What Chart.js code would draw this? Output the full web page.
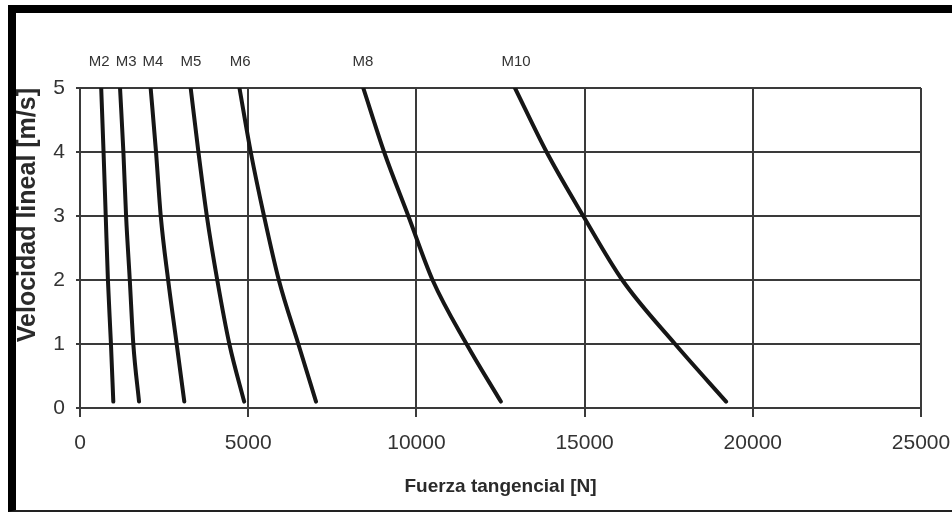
<!DOCTYPE html>
<html>
<head>
<meta charset="utf-8">
<script src="https://cdn.jsdelivr.net/npm/chart.js@4"></script>
<style>
  html, body { margin: 0; padding: 0; background: #fff; }
  #wrap { position: relative; width: 952px; height: 512px; }
  #frame { position: absolute; left: 8px; top: 5px; width: 944px; height: 497px;
           border-left: 8px solid #000; border-top: 8px solid #000; border-bottom: 2px solid #222;
           pointer-events: none; }
</style>
</head>
<body>
<div id="wrap">
  <canvas id="chart" width="952" height="512"></canvas>
  <div id="frame"></div>
</div>
<script>
// velocity levels (m/s) at which each curve was read
const speeds = [5, 4, 3, 2, 1, 0.1];
// tangential force (N) per screw size, same order as speeds
const m2  = [630, 700, 765, 830, 920, 990];
const m3  = [1190, 1290, 1370, 1480, 1585, 1755];
const m4  = [2100, 2260, 2400, 2620, 2874, 3100];
const m5  = [3290, 3520, 3770, 4080, 4440, 4880];
const m6  = [4740, 5075, 5470, 5910, 6490, 7016];
const m8  = [8420, 9040, 9760, 10480, 11490, 12510];
const m10 = [12930, 13870, 14960, 16120, 17690, 19206];
const seriesNames = ['M2', 'M3', 'M4', 'M5', 'M6', 'M8', 'M10'];
// force value over which each size label sits
const labelAt = [570, 1370, 2170, 3300, 4760, 8410, 12960];
const xTicks = [0, 5000, 10000, 15000, 20000, 25000];
const yTicks = [0, 1, 2, 3, 4, 5];

const sans = "'Liberation Sans', Arial, sans-serif";
const gridCol = '#3a3a3a';
const textCol = '#333';

const datasets = [m2, m3, m4, m5, m6, m8, m10].map((vals, i) => ({
  label: seriesNames[i],
  data: vals.map((f, j) => ({ x: f, y: speeds[j] })),
  showLine: true,
  borderColor: '#161616',
  borderWidth: 4,
  borderCapStyle: 'round',
  pointRadius: 0,
  cubicInterpolationMode: 'monotone'
}));

// size labels above the curves
const curveLabels = {
  id: 'curveLabels',
  afterDatasetsDraw(chart) {
    const ctx = chart.ctx, xs = chart.scales.x;
    ctx.save();
    ctx.font = '15px ' + sans;
    ctx.fillStyle = textCol;
    ctx.textAlign = 'center';
    ctx.textBaseline = 'middle';
    chart.data.datasets.forEach((ds, i) => {
      ctx.fillText(ds.label, xs.getPixelForValue(labelAt[i]), 62);
    });
    ctx.restore();
  }
};

new Chart(document.getElementById('chart'), {
  type: 'scatter',
  data: { datasets },
  plugins: [curveLabels],
  options: {
    responsive: false,
    animation: false,
    layout: { padding: { top: 88, right: 31, left: 0, bottom: 0 } },
    plugins: { legend: { display: false }, tooltip: { enabled: false } },
    scales: {
      x: {
        type: 'linear', min: 0, max: 25000,
        afterBuildTicks: s => { s.ticks = xTicks.map(v => ({ value: v })); },
        afterFit: s => { s.height = 104; s.paddingRight = 0; s.paddingLeft = 0; },
        grid: { color: gridCol, lineWidth: 2, tickLength: 9 },
        border: { color: gridCol, width: 2 },
        ticks: { color: textCol, font: { family: sans, size: 21 }, padding: 14, maxRotation: 0,
                 callback: v => String(v) },
        title: { display: true, text: 'Fuerza tangencial [N]', color: '#2a2a2a',
                 font: { family: sans, size: 19, weight: 'bold' }, padding: { top: 0, bottom: 14 } }
      },
      y: {
        type: 'linear', min: 0, max: 5,
        afterBuildTicks: s => { s.ticks = yTicks.map(v => ({ value: v })); },
        afterFit: s => { s.width = 80; },
        grid: { color: gridCol, lineWidth: 2, tickLength: 4 },
        border: { color: gridCol, width: 2 },
        ticks: { color: textCol, font: { family: sans, size: 21 }, padding: 11,
                 callback: v => String(v) },
        title: { display: true, text: 'Velocidad lineal [m/s]', color: '#2a2a2a', align: 'end',
                 font: { family: sans, size: 25, weight: 'bold' },
                 padding: { top: 13, bottom: 0 } }
      }
    }
  }
});
</script>
</body>
</html>
